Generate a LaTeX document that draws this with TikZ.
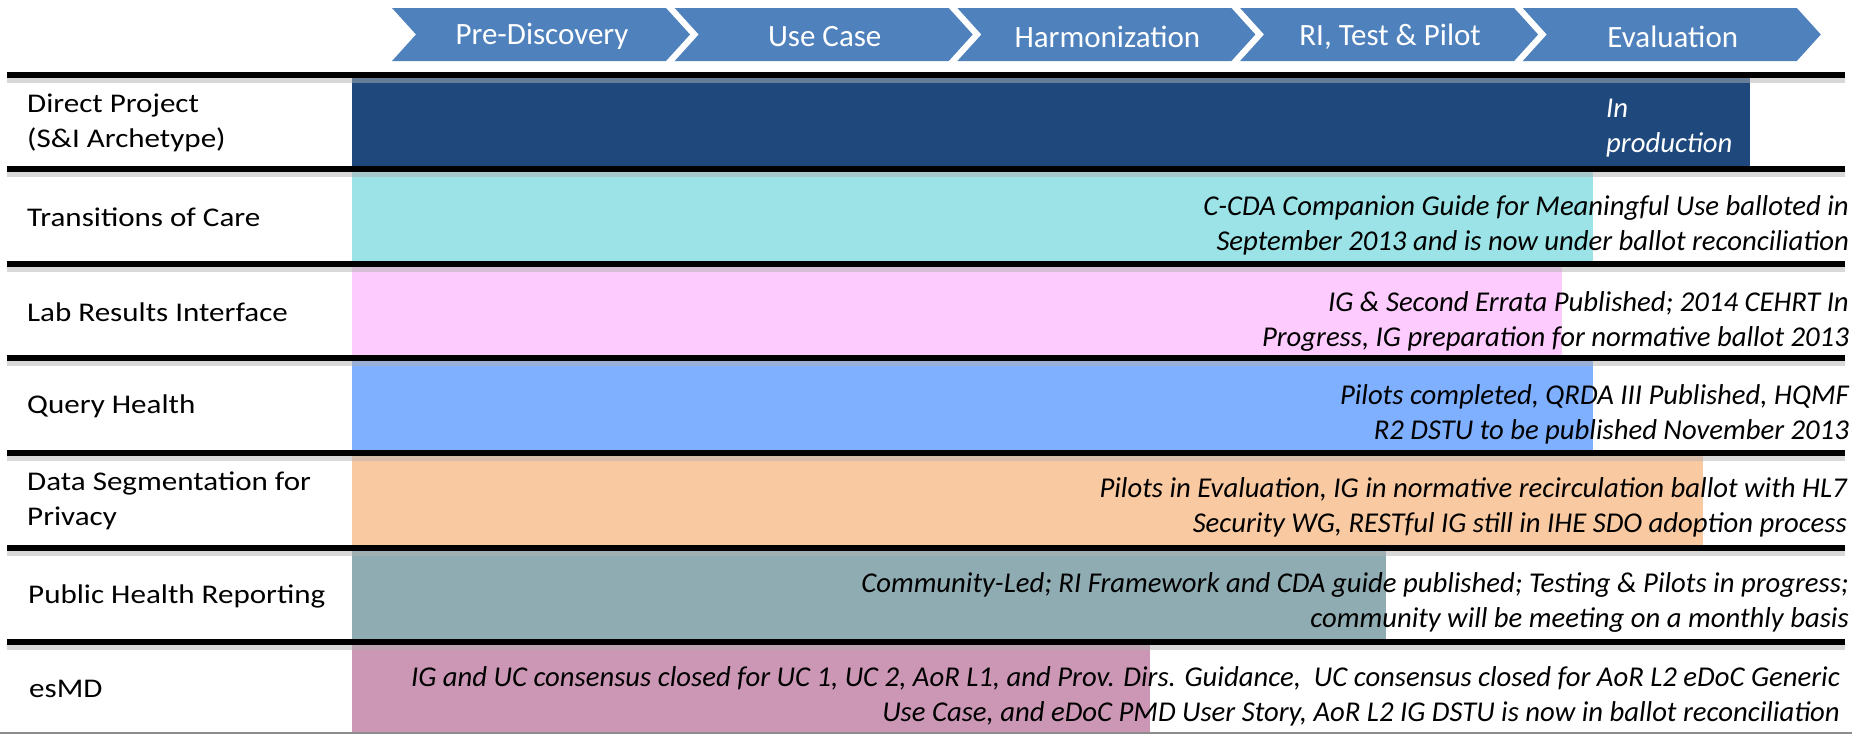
\documentclass[tikz,border=0pt]{standalone}
\usepackage{fontspec}
\setmainfont{Carlito}
\newfontfamily\rowfont{Carlito}[FakeStretch=1.15]
\definecolor{phaseblue}{HTML}{4F81BD}
\definecolor{directblue}{HTML}{1F497D}
\definecolor{tocteal}{HTML}{9BE3E6}
\definecolor{lripink}{HTML}{FDCBFD}
\definecolor{qhblue}{HTML}{7FAFFF}
\definecolor{dspeach}{HTML}{F9C9A1}
\definecolor{phrgray}{HTML}{8FACB2}
\definecolor{esmdmauve}{HTML}{CB97B5}

\begin{document}
\begin{tikzpicture}[x=1pt,y=-1pt]
\tikzstyle{phase}=[fill=phaseblue]
\tikzstyle{phasetext}=[text=white,inner sep=0pt,font=\fontsize{31}{37}\selectfont]
\tikzstyle{rowname}=[anchor=west,align=left,inner sep=0pt,font=\rowfont\fontsize{27}{35}\selectfont]
\tikzstyle{status}=[anchor=east,align=right,inner sep=0pt,font=\itshape\fontsize{28.7}{35}\selectfont]
\tikzstyle{rule}=[line width=6pt]
\tikzstyle{shade}=[line width=6pt,black!30,opacity=0.5]
\useasboundingbox (0,0) rectangle (1856,734);
\foreach \t [count=\i] in {Pre-Discovery,Use Case,Harmonization,{RI, Test \& Pilot},Evaluation}{
  \pgfmathsetmacro\xa{392+282.7*(\i-1)}
  \fill[phase] (\xa,8) -- ++(274,0) -- ++(24,26.5) -- ++(-24,26.5) -- ++(-274,0) -- ++(24,-26.5) -- cycle;
  \node (ph\i) [phasetext] at (\xa+150,36.5) {\t};
}
\foreach \c/\ya/\yb/\xb in {directblue/78/166/1750,tocteal/172/261/1593,lripink/267/355/1562,qhblue/361/450/1593,dspeach/456/545/1703,phrgray/551/639/1386,esmdmauve/645/732/1150}
  \fill[\c] (352,\ya) rectangle (\xb,\yb);
\foreach \y in {75,169,264,358,453,548,642}{
  \draw[shade] (7,\y+5) -- (1845,\y+5);
  \draw[rule] (7,\y) -- (1845,\y);
}
\draw[black!45,line width=1.5pt] (0,733) -- (1852,733);
\node (row1) [rowname] at (27,123) {Direct Project\\(S\&I Archetype)};
\node (row2) [rowname] at (27,217) {Transitions of Care};
\node (row3) [rowname] at (27,312) {Lab Results Interface};
\node (row4) [rowname] at (27,406) {Query Health};
\node (row5) [rowname] at (27,501) {Data Segmentation for\\Privacy};
\node (row6) [rowname] at (28,596) {Public Health Reporting};
\node (row7) [rowname] at (29,689) {esMD};
\node (st1) [status,anchor=west,align=left,text=white] at (1606,128) {In\\production};
\node (st2) [status] at (1849,225) {C-CDA Companion Guide for Meaningful Use balloted in\\September 2013 and is now under ballot reconciliation};
\node (st3) [status] at (1849,321) {IG \& Second Errata Published; 2014 CEHRT In\\Progress, IG preparation for normative ballot 2013};
\node (st4) [status] at (1849,414) {Pilots completed, QRDA III Published, HQMF\\R2 DSTU to be published November 2013};
\node (st5) [status] at (1847,507) {Pilots in Evaluation, IG in normative recirculation ballot with HL7\\Security WG, RESTful IG still in IHE SDO adoption process};
\node (st6) [status] at (1849,602) {Community-Led; RI Framework and CDA guide published; Testing \& Pilots in progress;\\community will be meeting on a monthly basis};
\node (st7) [status] at (1840,696) {IG and UC consensus closed for UC 1, UC 2, AoR L1, and Prov. Dirs. Guidance,~~UC consensus closed for AoR L2 eDoC Generic\\Use Case, and eDoC PMD User Story, AoR L2 IG DSTU is now in ballot reconciliation};
\end{tikzpicture}
\end{document}
